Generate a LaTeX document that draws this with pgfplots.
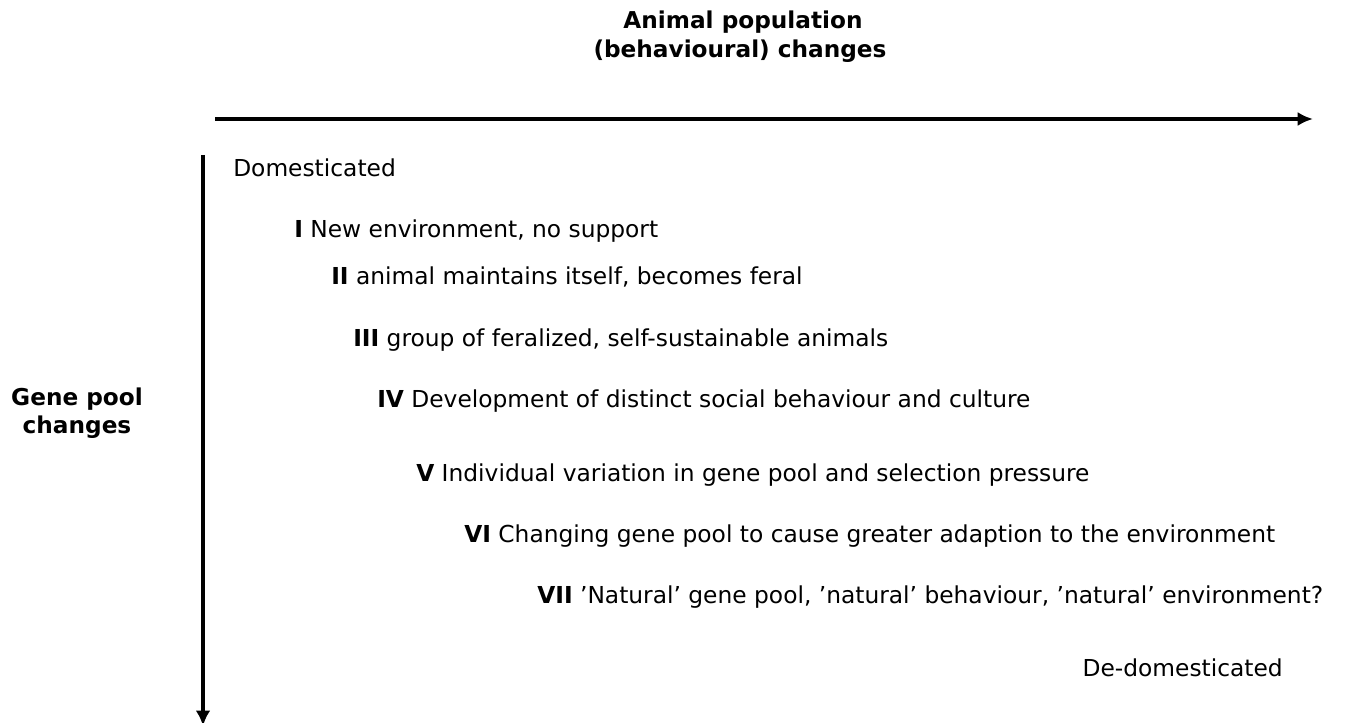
\documentclass[border=0pt]{standalone}
\usepackage{fontspec}
\setmainfont{DejaVu Sans}
\usepackage{pgfplots}
\pgfplotsset{compat=1.18}
\usetikzlibrary{arrows.meta}
\tikzset{
  txt/.style={anchor=base west, inner sep=0pt, font=\fontsize{17.5}{21}\selectfont},
  ttl/.style={anchor=base, inner sep=0pt, font=\fontsize{17.4}{21}\selectfont\bfseries},
}
\begin{document}
\begin{tikzpicture}
\begin{axis}[
  x=0.75pt, y=0.75pt, y dir=reverse,
  xmin=0, xmax=1346, ymin=0, ymax=723,
  hide axis, clip=false,
]
\addplot[black, line width=2.3pt, -{Latex[length=11.5pt,width=10.5pt]}] coordinates {(215,119) (1313,119)};
\addplot[black, line width=2.3pt, -{Latex[length=11.5pt,width=11pt]}] coordinates {(203,155) (203,726)};
\node[ttl] at (axis cs:743,29) {Animal population};
\node[ttl] at (axis cs:740,58) {(behavioural) changes};
\node[ttl] at (axis cs:77,406) {Gene pool};
\node[ttl] at (axis cs:77,434) {changes};
\node[txt] at (axis cs:233,177) {Domesticated};
\node[txt] at (axis cs:294,238) {\textbf{I} New environment, no support};
\node[txt] at (axis cs:331,285) {\textbf{II} animal maintains itself, becomes feral};
\node[txt] at (axis cs:353,347) {\textbf{III} group of feralized, self-sustainable animals};
\node[txt] at (axis cs:377,408) {\textbf{IV} Development of distinct social behaviour and culture};
\node[txt] at (axis cs:416,481) {\textbf{V} Individual variation in gene pool and selection pressure};
\node[txt] at (axis cs:464,542) {\textbf{VI} Changing gene pool to cause greater adaption to the environment};
\node[txt] at (axis cs:537,603) {\textbf{VII} ’Natural’ gene pool, ’natural’ behaviour, ’natural’ environment?};
\node[txt, anchor=base east] at (axis cs:1283,676) {De-domesticated};
\end{axis}
\pgfresetboundingbox
\path (current axis.south west) rectangle (current axis.north east);
\end{tikzpicture}
\end{document}
